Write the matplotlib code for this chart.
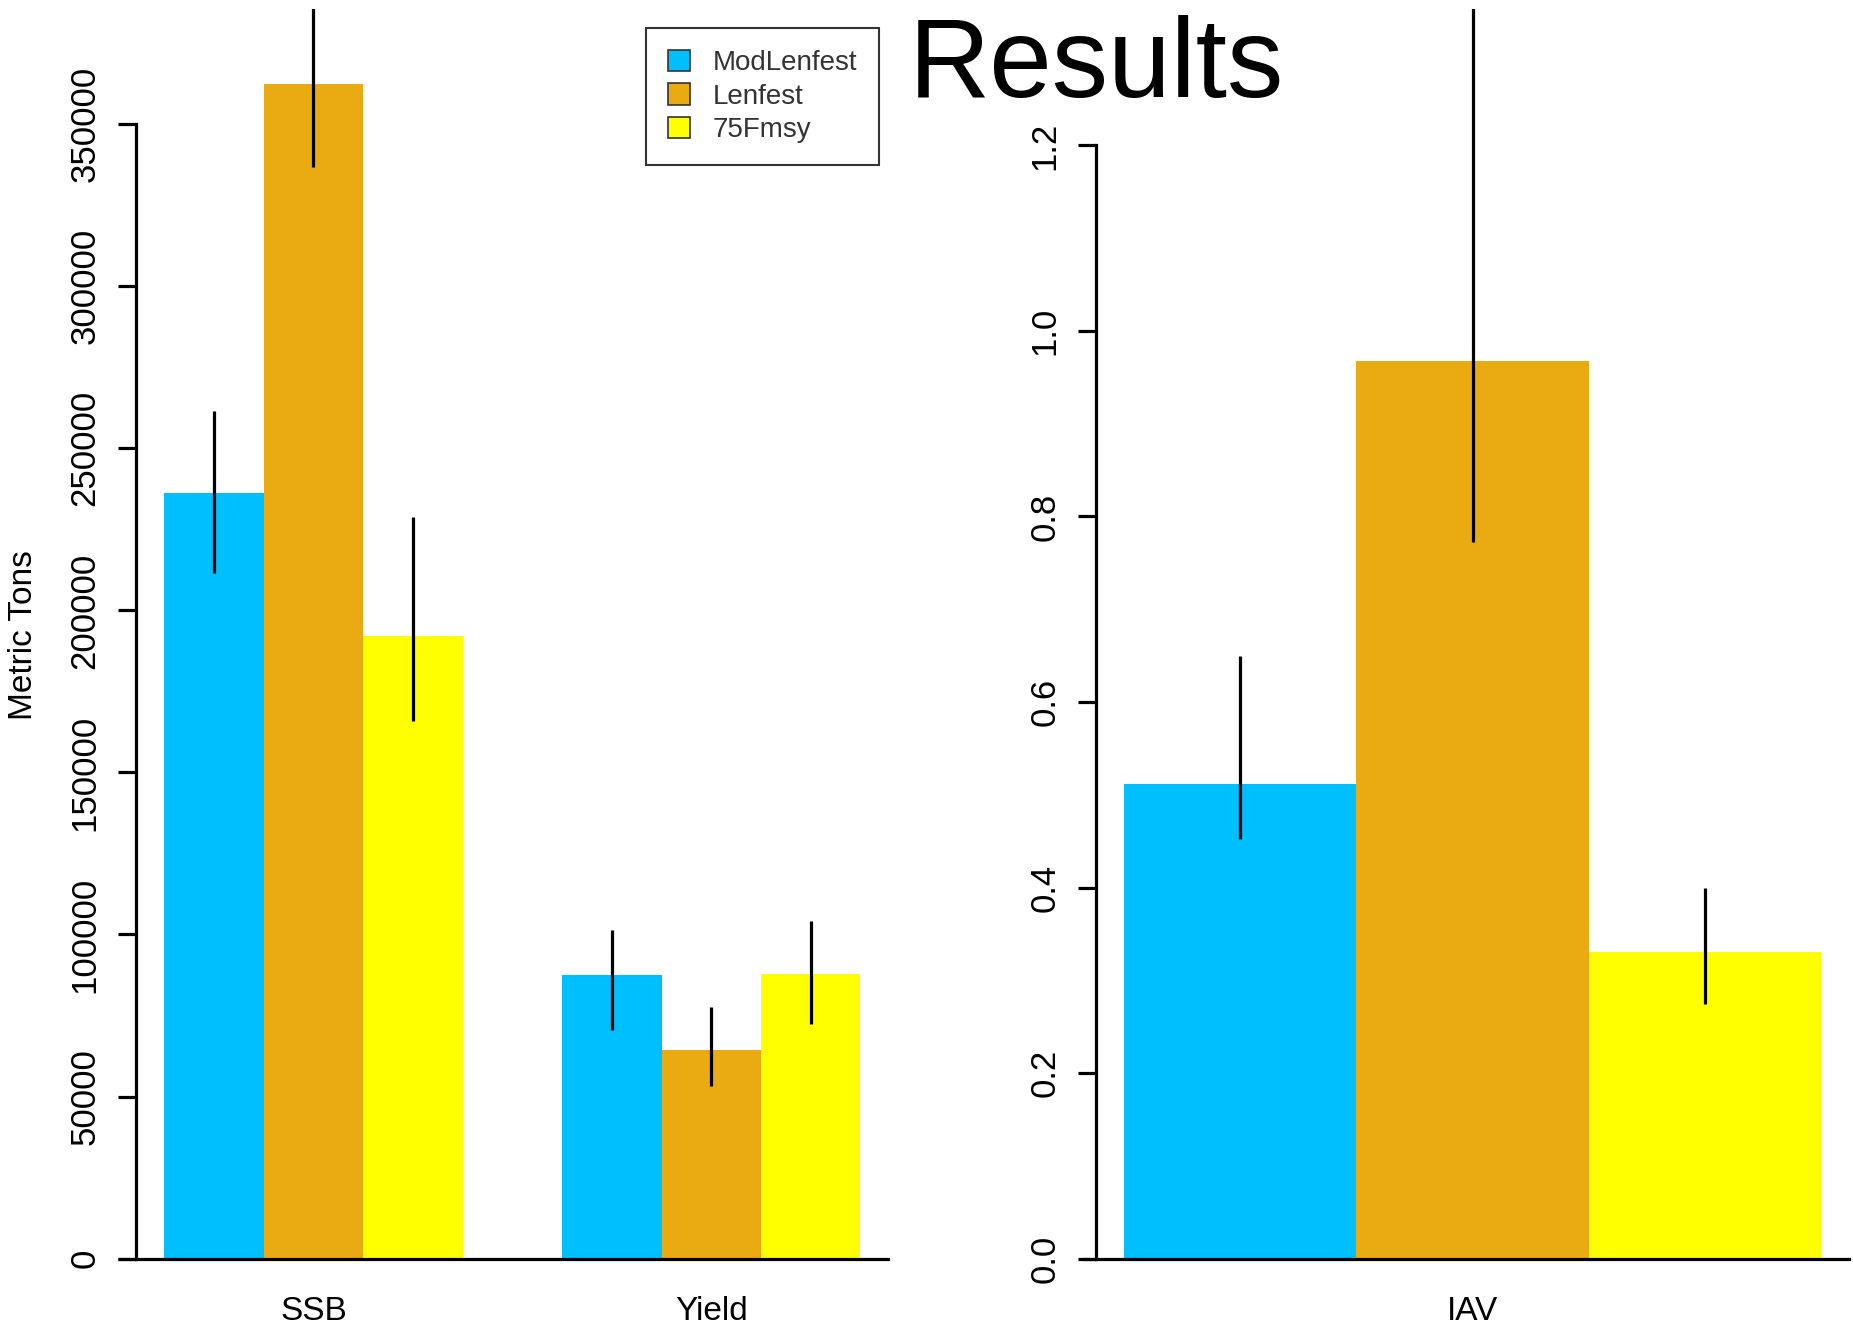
import matplotlib
matplotlib.use("Agg")
import matplotlib.pyplot as plt
from matplotlib.patches import Patch
import numpy as np

plt.rcParams['font.family'] = ['Liberation Sans', 'DejaVu Sans']

# ---- data ----
series = ["ModLenfest", "Lenfest", "75Fmsy"]
colors = ["#00BFFF", "#EAAA12", "#FFFF00"]

left_categories = ["SSB", "Yield"]
left_values = {
    "ModLenfest": [236200, 87500],
    "Lenfest":    [362400, 64500],
    "75Fmsy":     [192100, 87900],
}
left_low = {
    "ModLenfest": [211400, 70400],
    "Lenfest":    [336900, 53200],
    "75Fmsy":     [165900, 72500],
}
left_high = {
    "ModLenfest": [261400, 101300],
    "Lenfest":    [390000, 77700],
    "75Fmsy":     [228900, 104300],
}
left_ticks = [0, 50000, 100000, 150000, 200000, 250000, 300000, 350000]

right_categories = ["IAV"]
right_values = {"ModLenfest": [0.512], "Lenfest": [0.968], "75Fmsy": [0.330]}
right_low = {"ModLenfest": [0.452], "Lenfest": [0.773], "75Fmsy": [0.274]}
right_high = {"ModLenfest": [0.650], "Lenfest": [1.40], "75Fmsy": [0.400]}
right_ticks = [0.0, 0.2, 0.4, 0.6, 0.8, 1.0, 1.2]
right_ticklabels = ["0.0", "0.2", "0.4", "0.6", "0.8", "1.0", "1.2"]

W, H = 1853, 1329
fig = plt.figure(figsize=(W / 100, H / 100), dpi=100)

def fx(px):
    return px / W

def fy(py):
    return 1 - py / H

top_px, bot_px = 9.5, 1258.6
axL = fig.add_axes([fx(136.4), fy(bot_px), fx(888.3 - 136.4), (bot_px - top_px) / H])
axR = fig.add_axes([fx(1096.0), fy(bot_px), fx(1849.0 - 1096.0), (bot_px - top_px) / H])

TICK_FS = 25
LW = 2.3


def draw_panel(ax, cats, vals, lows, highs, ticks, ticklabels, ymax):
    ncat = len(cats)
    centers = []
    for ci in range(ncat):
        start = 1 + ci * 4  # R barplot beside=TRUE, space=c(0,1)
        for si, s in enumerate(series):
            x = start + si + 0.5
            ax.bar(x, vals[s][ci], width=1.0, color=colors[si], edgecolor='none', zorder=2)
            ax.plot([x, x], [lows[s][ci], highs[s][ci]], color='black', lw=2.3, zorder=3,
                    solid_capstyle='butt')
        centers.append(start + 1.5)
    xmin = 1
    xmax = 1 + ncat * 4 - 1
    pad = 0.04 * (xmax - xmin)
    ax.set_xlim(xmin - pad, xmax + pad)
    ax.set_ylim(0, ymax)
    for sp in ['top', 'right']:
        ax.spines[sp].set_visible(False)
    ax.spines['left'].set_bounds(ticks[0], ticks[-1])
    ax.spines['left'].set_linewidth(LW)
    ax.spines['bottom'].set_linewidth(LW)
    ax.set_yticks(ticks)
    ax.set_yticklabels(ticklabels, rotation=90, va='center', fontsize=TICK_FS)
    ax.tick_params(axis='y', length=13, width=LW, pad=12)
    ax.set_xticks(centers)
    ax.set_xticklabels(cats, fontsize=24)
    ax.tick_params(axis='x', length=0, pad=27)
    # extend bottom line leftward under the tick marks
    ax.plot([-0.024, 0], [0, 0], transform=ax.transAxes, color='black', lw=LW,
            clip_on=False, solid_capstyle='butt')


draw_panel(axL, left_categories, left_values, left_low, left_high,
           left_ticks, [str(t) for t in left_ticks], 385400)
draw_panel(axR, right_categories, right_values, right_low, right_high,
           right_ticks, right_ticklabels, 1.3465)
axR.lines[-1].set_xdata([-0.018, 0])

fig.text(fx(24), fy(635), "Metric Tons", rotation=90, fontsize=24, ha='center', va='center')

fig.text(fx(1096), fy(97), "Results", fontsize=81, ha='center', va='baseline')

handles = [Patch(facecolor=c, edgecolor='#333333', linewidth=1.2) for c in colors]
leg = fig.legend(handles, series, loc='upper left',
                 bbox_to_anchor=(fx(646), fy(28)), fontsize=20,
                 frameon=True, fancybox=False, edgecolor='black',
                 handlelength=0.8, handleheight=0.8, handletextpad=0.8,
                 labelspacing=0.25, borderpad=0.8, borderaxespad=0)
leg.get_frame().set_linewidth(1.5)
for t in leg.get_texts():
    t.set_color('#333333')

fig.savefig("out.png", dpi=100, facecolor='white')
